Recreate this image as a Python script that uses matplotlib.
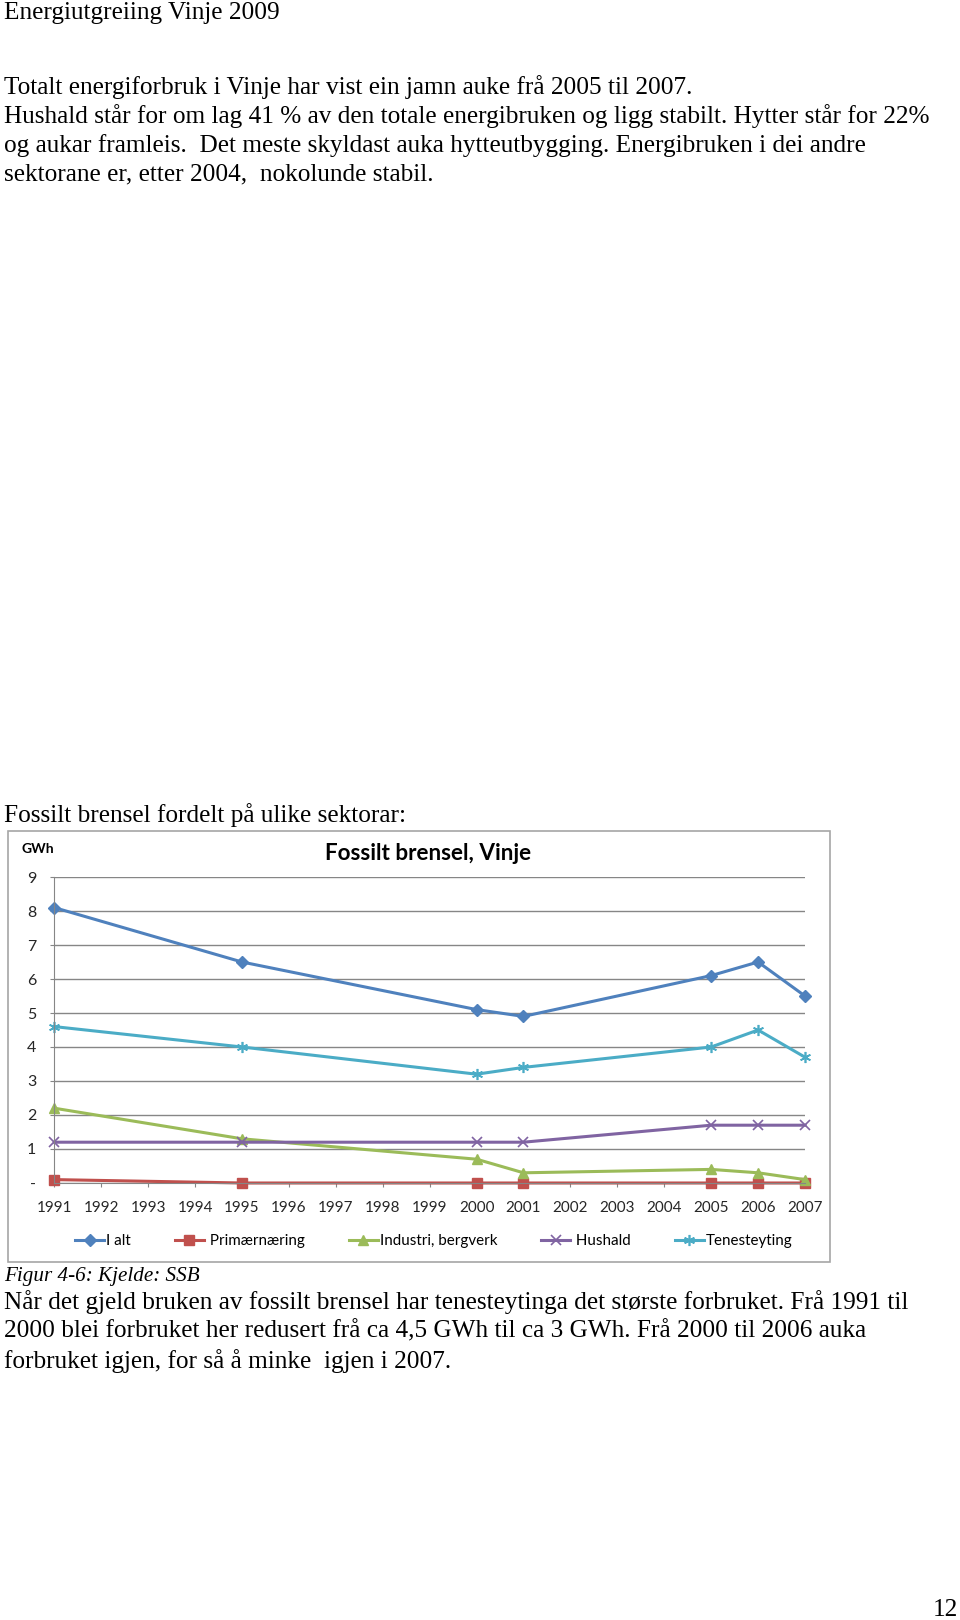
import matplotlib.pyplot as plt
from matplotlib.patches import Rectangle

B, H = 960, 1620

# data lese av figuren (GWh)
aar = [1991, 1995, 2000, 2001, 2005, 2006, 2007]
i_alt = [8.1, 6.5, 5.1, 4.9, 6.1, 6.5, 5.5]
primaer = [0.1, 0.0, 0.0, 0.0, 0.0, 0.0, 0.0]
industri = [2.2, 1.3, 0.7, 0.3, 0.4, 0.3, 0.1]
hushald = [1.2, 1.2, 1.2, 1.2, 1.7, 1.7, 1.7]
teneste = [4.6, 4.0, 3.2, 3.4, 4.0, 4.5, 3.7]

x_aar = list(range(1991, 2008))
y_verdiar = list(range(0, 10))
y_etikettar = ['-'] + [str(v) for v in y_verdiar[1:]]

tittel = 'Energiutgreiing Vinje 2009'
avsnitt1 = [
    'Totalt energiforbruk i Vinje har vist ein jamn auke frå 2005 til 2007.',
    'Hushald står for om lag 41 % av den totale energibruken og ligg stabilt. Hytter står for 22%',
    'og aukar framleis.  Det meste skyldast auka hytteutbygging. Energibruken i dei andre',
    'sektorane er, etter 2004,  nokolunde stabil.',
]
fig_overskrift = 'Fossilt brensel fordelt på ulike sektorar:'
figurtekst = 'Figur 4-6: Kjelde: SSB'
avsnitt2 = [
    'Når det gjeld bruken av fossilt brensel har tenesteytinga det største forbruket. Frå 1991 til',
    '2000 blei forbruket her redusert frå ca 4,5 GWh til ca 3 GWh. Frå 2000 til 2006 auka',
    'forbruket igjen, for så å minke  igjen i 2007.',
]
sidetal = '12'


def fx(x):
    return x / B


def fy(y):
    return 1 - y / H


fig = plt.figure(figsize=(B / 100, H / 100), dpi=100)
serif = 'Liberation Serif'
fs = 18.2

fig.text(fx(4), fy(13), tittel, family=serif, fontsize=fs, va='center')
for i, linje in enumerate(avsnitt1):
    fig.text(fx(4), fy(87 + i * 29.3), linje, family=serif, fontsize=fs, va='center')
fig.text(fx(4), fy(815), fig_overskrift, family=serif, fontsize=fs, va='center')
fig.text(fx(4), fy(1276), figurtekst, family=serif, fontsize=15.2, style='italic', va='center')
for i, linje in enumerate(avsnitt2):
    fig.text(fx(4), fy(1302 + i * 29.5), linje, family=serif, fontsize=fs, va='center')
fig.text(fx(958), fy(1610), sidetal, family=serif, fontsize=fs, va='center', ha='right')

# ramme rundt diagrammet
fig.patches.append(Rectangle((fx(8), fy(1262)), fx(830) - fx(8), fy(831) - fy(1262),
                             transform=fig.transFigure, fill=False,
                             edgecolor='#a6a6a6', lw=1.2))

ax = fig.add_axes([fx(54.3), fy(1183), fx(805) - fx(54.3), fy(877) - fy(1183)])
sans = 'Lato'
grå = '#868686'

ax.plot(aar, i_alt, color='#4F81BD', lw=2.2, marker='D', ms=6, label='I alt', clip_on=False)
ax.plot(aar, primaer, color='#C0504D', lw=2.2, marker='s', ms=7, label=' Primærnæring', clip_on=False)
ax.plot(aar, industri, color='#9BBB59', lw=2.2, marker='^', ms=7, label='Industri, bergverk', clip_on=False)
ax.plot(aar, hushald, color='#8064A2', lw=2.2, marker='x', ms=7, mew=1.2, label=' Hushald', clip_on=False)
ax.plot(aar, teneste, color='#4BACC6', lw=2.2, marker=(6, 2, 0), ms=8, mew=1.2, label='Tenesteyting', clip_on=False)

ax.set_xlim(1991, 2007)
ax.set_ylim(0, 9)
ax.set_xticks(x_aar)
ax.set_xticklabels([str(a) for a in x_aar], family=sans, fontsize=11)
ax.set_yticks(y_verdiar)
ax.set_yticklabels(y_etikettar, family=sans, fontsize=11.5)
ax.yaxis.grid(True, color=grå, lw=1)
ax.set_axisbelow(True)
for s in ['top', 'right']:
    ax.spines[s].set_visible(False)
for s in ['left', 'bottom']:
    ax.spines[s].set_color(grå)
ax.tick_params(axis='x', length=3, color=grå, pad=10, labelcolor='#262626')
ax.tick_params(axis='y', length=3, color=grå, pad=10, labelcolor='#262626')

fig.text(fx(21), fy(849), 'GWh', family=sans, fontsize=10, weight='bold', va='center')
fig.text(fx(428), fy(853), 'Fossilt brensel, Vinje', family=sans, fontsize=16.2,
         weight='bold', va='center', ha='center')

fig.legend(loc='center', bbox_to_anchor=(fx(434), fy(1241)), ncol=5, frameon=False,
           prop={'family': sans, 'size': 10.9}, handlelength=1.9, handletextpad=0.15,
           columnspacing=2.9)

fig.savefig('out.png', dpi=100)
